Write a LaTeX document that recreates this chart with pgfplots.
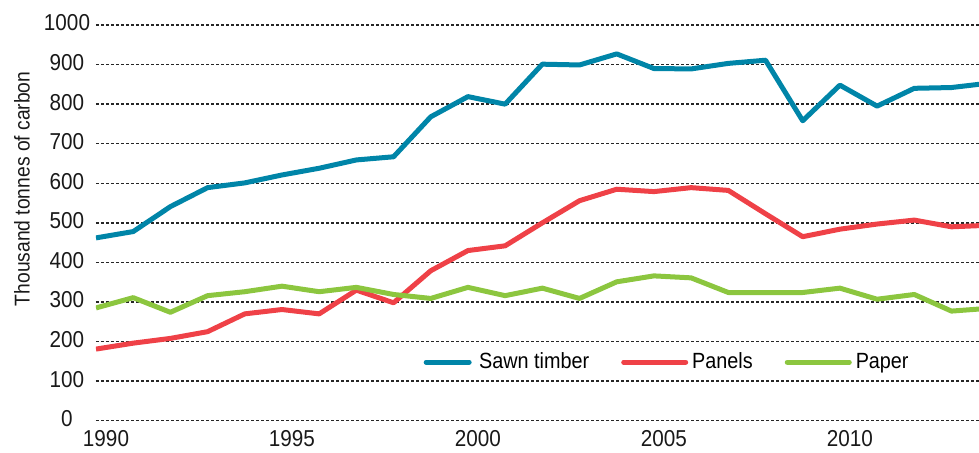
\documentclass[border=0pt]{standalone}
\usepackage{pgfplots}
\pgfplotsset{compat=1.18}
\usepackage{fontspec}
\setmainfont{Liberation Sans}[FakeStretch=0.9]

\definecolor{sawn}{HTML}{0085A8}
\definecolor{panels}{HTML}{EF4147}
\definecolor{paper}{HTML}{8CC63F}

\pgfplotsset{
    legline/.style={legend image code/.code={%
        \draw[##1, line cap=round] (0pt,0pt) -- (31pt,0pt);}},
    leglineshort/.style={legend image code/.code={%
        \path[draw=none] (0pt,0pt) -- (31pt,0pt);
        \draw[##1, line cap=round] (6.5pt,0pt) -- (28pt,0pt);}},
}

\begin{document}
\begin{tikzpicture}
    \path[use as bounding box] (-48pt,-15.65pt) rectangle (441.5pt,210.35pt);
    \begin{axis}[
        at={(0,0)}, anchor=south west,
        scale only axis,
        width=441.5pt, height=197.85pt,
        xmin=1990, xmax=2013.74,
        ymin=0, ymax=1000,
        xtick={1990,1995,2000,2005,2010},
        ytick={0,100,...,1000},
        /pgf/number format/1000 sep={},
        /pgf/number format/assume math mode=true,
        axis line style={draw=none},
        major tick length=0pt,
        ymajorgrids=true,
        grid style={black!85, line width=0.75pt, dash pattern=on 1.4pt off 1.1pt},
        ticklabel style={font=\fontsize{11.5}{13}\selectfont, text=black!90},
        yticklabel style={anchor=center, xshift=-14.5pt, yshift=1pt},
        xticklabel style={xshift=5pt, yshift=-1.5pt},
        ylabel={Thousand tonnes of carbon},
        ylabel style={at={(axis description cs:0,0.586)}, anchor=center,
            rotate=0, yshift=37pt, font=\fontsize{10.7}{12}\selectfont, text=black!90},
        legend style={at={(axis description cs:0.642,0.148)}, anchor=center,
            draw=none, fill=none, font=\fontsize{11}{13}\selectfont,
            legend columns=3,
            /tikz/every even column/.append style={column sep=14pt}},
        every axis plot/.append style={line width=2.5pt, line join=round},
        clip=true,
    ]

    \addplot[color=sawn, leglineshort]
        coordinates {
(1990,462) (1991,478) (1992,541) (1993,589) (1994,601) (1995,621)
(1996,638) (1997,659) (1998,667) (1999,768) (2000,819) (2001,800)
(2002,901) (2003,899) (2004,927) (2005,890) (2006,889) (2007,903)
(2008,911) (2009,758) (2010,848) (2011,795) (2012,840) (2013,842)
(2014,853)
    };

    \addplot[color=panels, legline]
        coordinates {
(1990,181) (1991,196) (1992,208) (1993,225) (1994,270) (1995,281)
(1996,270) (1997,330) (1998,298) (1999,379) (2000,430) (2001,442)
(2002,500) (2003,556) (2004,585) (2005,579) (2006,589) (2007,582)
(2008,523) (2009,465) (2010,484) (2011,497) (2012,507) (2013,490)
(2014,494)
    };

    \addplot[color=paper, legline]
        coordinates {
(1990,285) (1991,311) (1992,274) (1993,316) (1994,326) (1995,340)
(1996,326) (1997,337) (1998,319) (1999,309) (2000,337) (2001,316)
(2002,335) (2003,309) (2004,351) (2005,366) (2006,361) (2007,324)
(2008,324) (2009,324) (2010,335) (2011,307) (2012,319) (2013,277)
(2014,284)
    };

    \legend{Sawn timber\hspace{-13.5pt}, Panels, Paper}
    \end{axis}
\end{tikzpicture}
\end{document}
